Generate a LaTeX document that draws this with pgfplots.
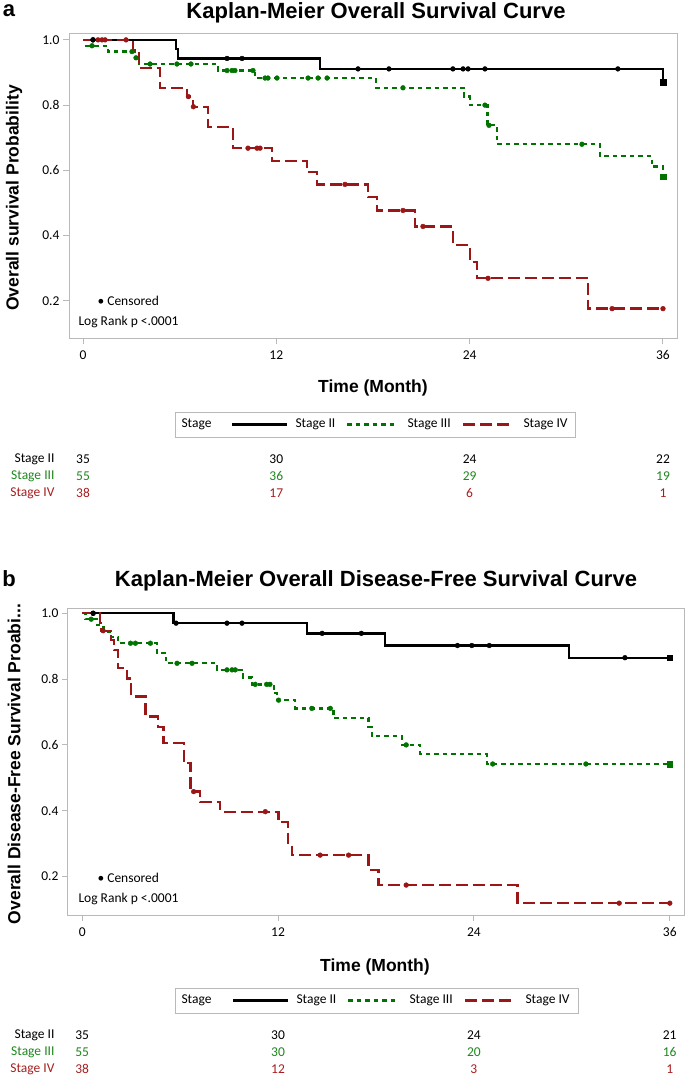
\documentclass[border=0pt]{standalone}
\usepackage{fontspec}
\setmainfont{Carlito}
\newfontfamily\headfont{Liberation Sans}
\usepackage{pgfplots}
\pgfplotsset{compat=1.18}

\definecolor{kmgreen}{RGB}{0,115,0}
\definecolor{kmred}{RGB}{155,22,22}
\definecolor{boxgray}{RGB}{185,185,185}
\definecolor{risgreen}{RGB}{30,135,30}
\definecolor{risred}{RGB}{165,30,30}

\pgfplotsset{
  km/.style={
    scale only axis,
    xmin=-0.87, xmax=36.87,
    xtick={0,12,24,36},
    ytick={0.2,0.4,0.6,0.8,1.0},
    tick align=outside, tick pos=left,
    major tick length=6pt,
    axis line style={boxgray, line width=1pt},
    tick style={boxgray, line width=1pt},
    tick label style={font=\fontsize{13.5}{13.5}\selectfont},
    x tick label style={yshift=-3pt},
    /pgf/number format/assume math mode=true,
    y tick label style={/pgf/number format/.cd, fixed, fixed zerofill, precision=1, /tikz/.cd},
    clip=false,
  },
  s2/.style={black, line width=2.3pt, const plot},
  s3/.style={kmgreen, line width=2.3pt, dash pattern=on 4.5pt off 4pt, const plot},
  s4/.style={kmred, line width=2.3pt, dash pattern=on 12pt off 5pt, const plot},
  cens/.style={only marks, mark=*, mark size=2.4pt},
  endsq/.style={only marks, mark=square*, mark size=2.8pt},
}
\newcommand{\headfmt}{\headfont\bfseries\fontsize{22}{22}\selectfont}
\newcommand{\labfmt}{\headfont\bfseries\fontsize{17.5}{17.5}\selectfont}
\newcommand{\smallfmt}{\fontsize{13.5}{13.5}\selectfont}

\begin{document}
\begin{tikzpicture}
\path[use as bounding box] (0pt,0pt) rectangle (685pt,-1079pt);

% ---------------- panel a ----------------
\node[font=\headfmt] at (9pt,-11pt) {a};
\node[font=\headfmt] at (376pt,-13pt) {Kaplan-Meier Overall Survival Curve};
\node[font=\labfmt, rotate=90] at (14pt,-198pt) {Overall survival Probability};

\begin{axis}[km, at={(69pt,-338pt)}, anchor=south west,
  width=608pt, height=304pt, ymin=0.086, ymax=1.018]
  % Stage II
  \addplot[s2] coordinates {(0,1)(5.77,0.971)(5.9,0.943)(14.71,0.911)(36,0.871)};
  \addplot[cens, black] coordinates {(0.62,1)(8.94,0.943)(9.87,0.943)(17.07,0.911)
    (18.99,0.911)(22.96,0.911)(23.59,0.911)(23.9,0.911)(24.95,0.911)(33.2,0.911)};
  \addplot[endsq, black] coordinates {(36,0.871)};
  % Stage III
  \addplot[s3] coordinates {(0,1)(0.2,0.982)(1.55,0.964)(3.23,0.945)(3.48,0.926)
    (8.38,0.906)(10.68,0.883)(18.19,0.853)(23.65,0.826)(24.0,0.800)(25.1,0.738)
    (25.7,0.680)(32.1,0.644)(35.3,0.612)(36,0.580)};
  \addplot[cens, kmgreen] coordinates {(0.56,0.982)(3.04,0.964)(3.29,0.945)(4.16,0.926)
    (5.83,0.926)(6.7,0.926)(8.94,0.906)(9.25,0.906)(9.43,0.906)(10.55,0.906)
    (11.3,0.883)(11.48,0.883)(12.04,0.883)(13.97,0.883)(14.59,0.883)(15.15,0.883)
    (19.86,0.853)(24.95,0.800)(25.2,0.738)(30.97,0.680)};
  \addplot[endsq, kmgreen] coordinates {(36,0.580)};
  % Stage IV
  \addplot[s4] coordinates {(0,1)(3.12,0.969)(3.48,0.913)(4.78,0.853)(6.46,0.826)
    (6.83,0.795)(7.76,0.733)(9.31,0.668)(11.73,0.629)(13.9,0.595)(14.53,0.557)
    (17.69,0.518)(18.25,0.477)(20.6,0.428)(22.96,0.372)(24.02,0.318)(24.46,0.269)
    (31.35,0.176)(36,0.176)};
  \addplot[cens, kmred] coordinates {(0.93,1)(1.18,1)(1.37,1)(2.67,1)(6.54,0.826)
    (6.85,0.795)(10.24,0.668)(10.8,0.668)(10.99,0.668)(16.26,0.557)(19.86,0.477)
    (21.1,0.428)(25.14,0.269)(32.84,0.176)(36,0.176)};
  \addplot[cens, black] coordinates {(0.62,1)};
\end{axis}

\node[anchor=west, font=\smallfmt] at (94pt,-301pt) {\textbullet\ Censored};
\node[anchor=west, font=\smallfmt] at (75pt,-322pt) {Log Rank p <.0001};

\node[font=\labfmt] at (373pt,-388pt) {Time (Month)};

\draw[boxgray, line width=1pt, fill=white] (175pt,-412pt) rectangle (575pt,-437pt);
\node[anchor=west, font=\smallfmt] at (178pt,-424.5pt) {Stage};
\draw[black, line width=2.3pt] (232pt,-424.5pt) -- (287pt,-424.5pt);
\node[anchor=west, font=\smallfmt] at (292pt,-424.5pt) {Stage II};
\draw[kmgreen, line width=2.3pt, dash pattern=on 4.5pt off 4pt] (347pt,-424.5pt) -- (396pt,-424.5pt);
\node[anchor=west, font=\smallfmt] at (404pt,-424.5pt) {Stage III};
\draw[kmred, line width=2.3pt, dash pattern=on 12pt off 5pt] (463pt,-424.5pt) -- (512pt,-424.5pt);
\node[anchor=west, font=\smallfmt] at (520pt,-424.5pt) {Stage IV};

\node[anchor=east, font=\smallfmt] at (58pt,-459pt) {Stage II};
\node[anchor=east, font=\smallfmt, risgreen] at (58pt,-476pt) {Stage III};
\node[anchor=east, font=\smallfmt, risred] at (58pt,-493pt) {Stage IV};
\foreach \xx/\aa/\bb/\cc in {83/35/55/38, 276.3/30/36/17, 469.6/24/29/6, 663/22/19/1} {
  \node[font=\smallfmt] at (\xx pt,-459pt) {\aa};
  \node[font=\smallfmt, risgreen] at (\xx pt,-476pt) {\bb};
  \node[font=\smallfmt, risred] at (\xx pt,-493pt) {\cc};
}

% ---------------- panel b ----------------
\node[font=\headfmt] at (9pt,-579pt) {b};
\node[font=\headfmt] at (376pt,-581pt) {Kaplan-Meier Overall Disease-Free Survival Curve};
\node[font=\labfmt, rotate=90] at (14pt,-764pt) {Overall Disease-Free Survival Proabi...};

\begin{axis}[km, at={(68pt,-915pt)}, anchor=south west,
  width=616pt, height=307pt, ymin=0.083, ymax=1.016]
  % Stage II
  \addplot[s2] coordinates {(0,1)(5.6,0.970)(13.77,0.939)(18.56,0.902)(29.84,0.865)(36,0.865)};
  \addplot[cens, black] coordinates {(0.67,1)(5.75,0.970)(8.87,0.970)(9.79,0.970)
    (14.7,0.939)(17.1,0.939)(22.99,0.902)(23.87,0.902)(24.94,0.902)(33.25,0.865)};
  \addplot[endsq, black] coordinates {(36,0.865)};
  % Stage III
  \addplot[s3] coordinates {(0,1)(0.2,0.982)(0.9,0.964)(1.3,0.945)(1.75,0.927)
    (2.2,0.909)(4.6,0.879)(5.15,0.848)(8.26,0.828)(9.87,0.805)(10.4,0.784)
    (11.73,0.757)(11.93,0.736)(13.05,0.711)(15.4,0.681)(17.54,0.655)(17.75,0.627)
    (19.58,0.600)(20.7,0.572)(24.79,0.542)(36,0.542)};
  \addplot[cens, kmgreen] coordinates {(0.55,0.982)(2.96,0.909)(3.26,0.909)(4.18,0.909)
    (5.81,0.848)(6.73,0.848)(8.87,0.828)(9.18,0.828)(9.38,0.828)(10.6,0.784)
    (11.3,0.784)(11.5,0.784)(12.03,0.736)(14.07,0.711)(15.2,0.711)(19.85,0.600)
    (25.15,0.542)(30.86,0.542)};
  \addplot[endsq, kmgreen] coordinates {(36,0.542)};
  % Stage IV
  \addplot[s4] coordinates {(0,1)(1.08,0.970)(1.16,0.947)(1.77,0.919)(1.94,0.888)
    (2.18,0.833)(2.75,0.802)(3.0,0.747)(3.87,0.686)(4.63,0.655)(4.99,0.605)
    (6.22,0.544)(6.63,0.458)(7.2,0.427)(8.46,0.397)(12.03,0.365)(12.6,0.301)
    (12.85,0.265)(17.54,0.220)(18.15,0.174)(26.67,0.119)(36,0.119)};
  \addplot[cens, kmred] coordinates {(1.28,0.947)(6.83,0.458)(11.22,0.397)(14.58,0.265)
    (16.32,0.265)(19.85,0.174)(32.9,0.119)(36,0.119)};
  \addplot[cens, black] coordinates {(0.67,1)};
\end{axis}

\node[anchor=west, font=\smallfmt] at (94pt,-878pt) {\textbullet\ Censored};
\node[anchor=west, font=\smallfmt] at (75pt,-899pt) {Log Rank p <.0001};

\node[font=\labfmt] at (375pt,-967pt) {Time (Month)};

\draw[boxgray, line width=1pt, fill=white] (175pt,-988pt) rectangle (578pt,-1013pt);
\node[anchor=west, font=\smallfmt] at (178pt,-1000.5pt) {Stage};
\draw[black, line width=2.3pt] (233pt,-1000.5pt) -- (288pt,-1000.5pt);
\node[anchor=west, font=\smallfmt] at (293pt,-1000.5pt) {Stage II};
\draw[kmgreen, line width=2.3pt, dash pattern=on 4.5pt off 4pt] (348pt,-1000.5pt) -- (397pt,-1000.5pt);
\node[anchor=west, font=\smallfmt] at (406pt,-1000.5pt) {Stage III};
\draw[kmred, line width=2.3pt, dash pattern=on 12pt off 5pt] (465pt,-1000.5pt) -- (514pt,-1000.5pt);
\node[anchor=west, font=\smallfmt] at (522pt,-1000.5pt) {Stage IV};

\node[anchor=east, font=\smallfmt] at (58pt,-1035pt) {Stage II};
\node[anchor=east, font=\smallfmt, risgreen] at (58pt,-1052pt) {Stage III};
\node[anchor=east, font=\smallfmt, risred] at (58pt,-1069pt) {Stage IV};
\foreach \xx/\aa/\bb/\cc in {82.2/35/55/38, 278/30/30/12, 473.9/24/20/3, 669.7/21/16/1} {
  \node[font=\smallfmt] at (\xx pt,-1035pt) {\aa};
  \node[font=\smallfmt, risgreen] at (\xx pt,-1052pt) {\bb};
  \node[font=\smallfmt, risred] at (\xx pt,-1069pt) {\cc};
}
\end{tikzpicture}
\end{document}
